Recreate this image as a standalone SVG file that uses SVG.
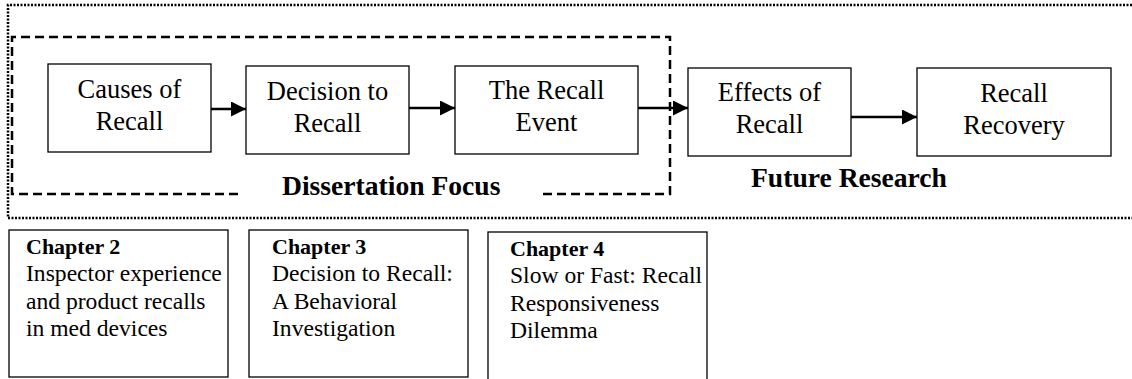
<svg xmlns="http://www.w3.org/2000/svg" width="1132" height="379" viewBox="0 0 1132 379">
  <style>
    text { font-family: "Liberation Serif", "Times New Roman", Tinos, "DejaVu Serif", serif; fill: #000; }
    .box { fill: #fff; stroke: #000; stroke-width: 1.3; }
    .lbl { font-size: 26.5px; text-anchor: middle; }
    .head { font-size: 27.6px; font-weight: bold; }
    .ch text { font-size: 23.6px; }
    .ch .t { font-weight: bold; font-size: 22px; }
    .link { stroke: #000; stroke-width: 2.5; fill: none; marker-end: url(#head); }
  </style>
  <defs>
    <marker id="head" markerUnits="userSpaceOnUse" markerWidth="16" markerHeight="16" refX="15" refY="7.5" orient="auto">
      <path d="M0,0 L15,7.5 L0,15 Z" fill="#000"/>
    </marker>
  </defs>
  <rect width="1132" height="379" fill="#fff"/>

  <!-- outer dotted frame (open on the right) -->
  <path id="future-frame" d="M1132,5 H8 V218 H1132" fill="none" stroke="#000" stroke-width="2.5" stroke-dasharray="2 1.5"/>

  <!-- dashed frame around the dissertation scope -->
  <path id="focus-frame" d="M238,194 H12 V37 H670 V194 H540" fill="none" stroke="#000" stroke-width="2.5" stroke-dasharray="9 5"/>

  <text class="head" x="282" y="195">Dissertation Focus</text>
  <text class="head" x="751" y="187">Future Research</text>

  <g id="causes">
    <rect class="box" x="48" y="64" width="163" height="88"/>
    <text class="lbl" x="129.5" y="98">Causes of</text>
    <text class="lbl" x="129.5" y="130">Recall</text>
  </g>
  <g id="decision">
    <rect class="box" x="246" y="66" width="163" height="88"/>
    <text class="lbl" x="327.5" y="100">Decision to</text>
    <text class="lbl" x="327.5" y="132">Recall</text>
  </g>
  <g id="event">
    <rect class="box" x="455" y="66" width="183" height="88"/>
    <text class="lbl" x="546.5" y="99">The Recall</text>
    <text class="lbl" x="546.5" y="131">Event</text>
  </g>
  <g id="effects">
    <rect class="box" x="688" y="68" width="163" height="88"/>
    <text class="lbl" x="769.5" y="101">Effects of</text>
    <text class="lbl" x="769.5" y="133">Recall</text>
  </g>
  <g id="recovery">
    <rect class="box" x="917" y="68" width="194" height="88"/>
    <text class="lbl" x="1014" y="102">Recall</text>
    <text class="lbl" x="1014" y="134">Recovery</text>
  </g>

  <g id="connectors">
    <line class="link" x1="211" y1="109" x2="246" y2="109"/>
    <line class="link" x1="409" y1="108" x2="455" y2="108"/>
    <line class="link" x1="638" y1="108" x2="688" y2="108"/>
    <line class="link" x1="851" y1="117" x2="917" y2="117"/>
  </g>

  <g id="chapter2" class="ch">
    <rect class="box" x="9" y="230" width="219" height="147"/>
    <text class="t" x="26" y="254">Chapter 2</text>
    <text x="26" y="281">Inspector experience</text>
    <text x="26" y="308.5">and product recalls</text>
    <text x="26" y="336">in med devices</text>
  </g>
  <g id="chapter3" class="ch">
    <rect class="box" x="249" y="230" width="219" height="147"/>
    <text class="t" x="272" y="254">Chapter 3</text>
    <text x="272" y="281">Decision to Recall:</text>
    <text x="272" y="308.5">A Behavioral</text>
    <text x="272" y="336">Investigation</text>
  </g>
  <g id="chapter4" class="ch">
    <rect class="box" x="488" y="232" width="219" height="160"/>
    <text class="t" x="510" y="256">Chapter 4</text>
    <text x="510" y="283">Slow or Fast: Recall</text>
    <text x="510" y="310.5">Responsiveness</text>
    <text x="510" y="338">Dilemma</text>
  </g>
</svg>
